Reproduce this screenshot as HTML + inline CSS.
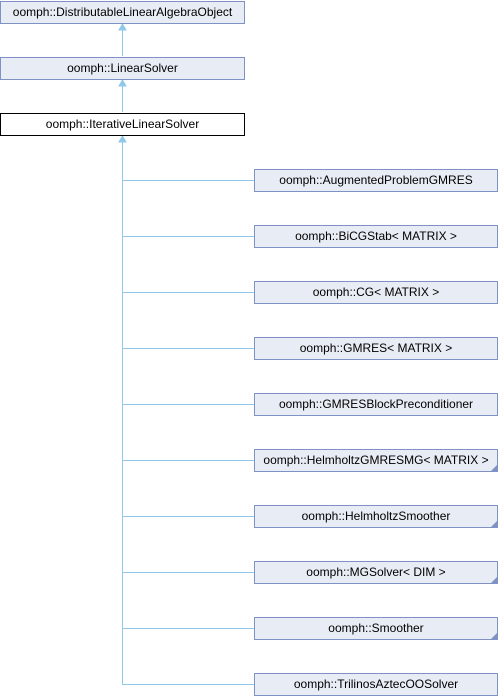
<!DOCTYPE html>
<html><head><meta charset="utf-8"><style>
html,body{margin:0;padding:0;background:#fff;width:498px;height:696px;overflow:hidden}
.b{position:absolute;box-sizing:border-box;height:23px;background:#e8ecf4;border:1px solid #7f92c6;font:12px "Liberation Sans",sans-serif;line-height:21px;text-align:center;color:#000;white-space:nowrap}
.k{border-color:#000;background:#fff}
.c::after{content:"";position:absolute;right:0;bottom:0;border-style:solid;border-width:0 0 6px 6px;border-color:transparent transparent #7f92c6 transparent}
svg{position:absolute;left:0;top:0}
</style></head><body>
<svg width="498" height="696">
<g stroke="#8fc9ea" stroke-width="1" fill="#8fc9ea">
<line x1="122.5" y1="29" x2="122.5" y2="56"/>
<polygon points="122.5,24 119,30 126,30"/>
<line x1="122.5" y1="85" x2="122.5" y2="112"/>
<polygon points="122.5,80 119,86 126,86"/>
<line x1="122.5" y1="141" x2="122.5" y2="684"/>
<polygon points="122.5,136 119,142 126,142"/>
<line x1="122" y1="180.5" x2="254" y2="180.5"/>
<line x1="122" y1="236.5" x2="254" y2="236.5"/>
<line x1="122" y1="292.5" x2="254" y2="292.5"/>
<line x1="122" y1="348.5" x2="254" y2="348.5"/>
<line x1="122" y1="404.5" x2="254" y2="404.5"/>
<line x1="122" y1="460.5" x2="254" y2="460.5"/>
<line x1="122" y1="516.5" x2="254" y2="516.5"/>
<line x1="122" y1="572.5" x2="254" y2="572.5"/>
<line x1="122" y1="628.5" x2="254" y2="628.5"/>
<line x1="122" y1="684.5" x2="254" y2="684.5"/>
</g></svg>
<div class="b" style="left:0;top:1px;width:245px">oomph::DistributableLinearAlgebraObject</div>
<div class="b" style="left:0;top:57px;width:245px">oomph::LinearSolver</div>
<div class="b k" style="left:0;top:113px;width:245px">oomph::IterativeLinearSolver</div>
<div class="b" style="left:254px;top:169px;width:244px">oomph::AugmentedProblemGMRES</div>
<div class="b" style="left:254px;top:225px;width:244px">oomph::BiCGStab&lt; MATRIX &gt;</div>
<div class="b" style="left:254px;top:281px;width:244px">oomph::CG&lt; MATRIX &gt;</div>
<div class="b" style="left:254px;top:337px;width:244px">oomph::GMRES&lt; MATRIX &gt;</div>
<div class="b" style="left:254px;top:393px;width:244px">oomph::GMRESBlockPreconditioner</div>
<div class="b c" style="left:254px;top:449px;width:244px">oomph::HelmholtzGMRESMG&lt; MATRIX &gt;</div>
<div class="b c" style="left:254px;top:505px;width:244px">oomph::HelmholtzSmoother</div>
<div class="b c" style="left:254px;top:561px;width:244px">oomph::MGSolver&lt; DIM &gt;</div>
<div class="b c" style="left:254px;top:617px;width:244px">oomph::Smoother</div>
<div class="b" style="left:254px;top:673px;width:244px">oomph::TrilinosAztecOOSolver</div>
</body></html>
